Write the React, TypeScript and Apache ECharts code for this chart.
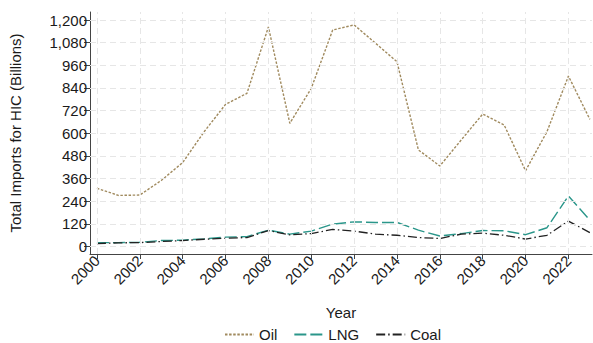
import React, { useEffect, useRef } from "react";
import * as echarts from "echarts";

const years = [2000, 2001, 2002, 2003, 2004, 2005, 2006, 2007, 2008, 2009, 2010, 2011, 2012, 2013, 2014, 2015, 2016, 2017, 2018, 2019, 2020, 2021, 2022, 2023];
const oil = [309, 271, 273, 350, 445, 608, 753, 812, 1163, 653, 838, 1147, 1174, 1077, 979, 512, 427, 565, 702, 644, 402, 609, 903, 674];
const lng = [21, 21, 23, 32, 34, 41, 50, 53, 87, 66, 82, 119, 131, 128, 128, 87, 56, 69, 85, 84, 63, 100, 268, 140];
const coal = [16, 20, 21, 27, 32, 39, 44, 48, 85, 62, 69, 91, 82, 66, 60, 48, 43, 66, 71, 60, 40, 60, 135, 74];
const yTicks = [0, 120, 240, 360, 480, 600, 720, 840, 960, 1080, 1200];
const xTicks = [2000, 2002, 2004, 2006, 2008, 2010, 2012, 2014, 2016, 2018, 2020, 2022];

const FONT = "Liberation Sans, Arial, Helvetica, sans-serif";
const TXT = "#1a1a1a";

export default function App() {
  const ref = useRef<HTMLDivElement>(null);
  useEffect(() => {
    if (!ref.current) return;
    const chart = echarts.init(ref.current, undefined, { renderer: "svg" });
    const pair = (arr: number[]) => years.map((y, i) => [y, arr[i]]);
    const gridLine = { color: "#e6e6e6", width: 1, type: [6, 4] as any };
    chart.setOption({
      animation: false,
      textStyle: { fontFamily: FONT },
      grid: { left: 86, right: 1, top: 12, bottom: 89, containLabel: false },
      xAxis: {
        type: "value",
        min: 1999.676,
        max: 2023.1,
        name: "Year",
        nameLocation: "middle",
        nameGap: 51,
        nameTextStyle: { fontSize: 15, color: TXT, fontFamily: FONT },
        axisLine: { show: true, onZero: false, lineStyle: { color: "#444", width: 1 } },
        axisTick: { show: true, length: 5, lineStyle: { color: "#444" }, customValues: xTicks },
        axisLabel: {
          customValues: xTicks,
          rotate: 45,
          margin: 4,
          fontSize: 15,
          color: TXT,
          fontFamily: FONT,
          formatter: (v: number) => String(Math.round(v)),
        },
        splitLine: { show: false },
      },
      yAxis: {
        type: "value",
        min: -39.2,
        max: 1242.4,
        name: "Total Imports for HIC (Billions)",
        nameLocation: "middle",
        nameGap: 67,
        nameTextStyle: { fontSize: 15, color: TXT, fontFamily: FONT },
        axisLine: { show: true, onZero: false, lineStyle: { color: "#444", width: 1 } },
        axisTick: { show: true, length: 6, lineStyle: { color: "#444" }, customValues: yTicks },
        axisLabel: {
          customValues: yTicks,
          margin: 3,
          fontSize: 15,
          color: TXT,
          fontFamily: FONT,
          formatter: (v: number) => Math.round(v).toLocaleString("en-US"),
        },
        splitLine: { show: false },
      },
      legend: {
        top: 327,
        left: 224,
        padding: 0,
        itemWidth: 29,
        itemHeight: 10,
        itemGap: 16,
        itemStyle: { opacity: 0 },
        textStyle: { fontSize: 15, color: TXT, fontFamily: FONT },
        data: ["Oil", "LNG", "Coal"],
      },
      series: [
        {
          name: "grid",
          type: "line",
          data: [],
          silent: true,
          z: 1,
          markLine: {
            silent: true,
            symbol: "none",
            label: { show: false },
            lineStyle: gridLine,
            emphasis: { disabled: true },
            data: [
              ...yTicks.map((v) => ({ yAxis: v })),
              ...xTicks.map((v) => ({ xAxis: v })),
            ],
          },
        },
        {
          name: "Oil",
          type: "line",
          data: pair(oil),
          symbol: "none",
          z: 3,
          lineStyle: { color: "#a08a5e", width: 1.4, type: [2.5, 1.6] },
          itemStyle: { color: "#a08a5e" },
        },
        {
          name: "LNG",
          type: "line",
          data: pair(lng),
          symbol: "none",
          z: 3,
          lineStyle: { color: "#2a968a", width: 1.4, type: [12, 4] },
          itemStyle: { color: "#2a968a" },
        },
        {
          name: "Coal",
          type: "line",
          data: pair(coal),
          symbol: "none",
          z: 4,
          lineStyle: { color: "#222222", width: 1.3, type: [9, 3, 1.5, 3] },
          itemStyle: { color: "#222222" },
        },
      ],
    });
    return () => chart.dispose();
  }, []);
  return (
    <div
      ref={ref}
      style={{ position: "fixed", left: 0, top: 0, width: 593, height: 343, background: "#fff" }}
    />
  );
}
